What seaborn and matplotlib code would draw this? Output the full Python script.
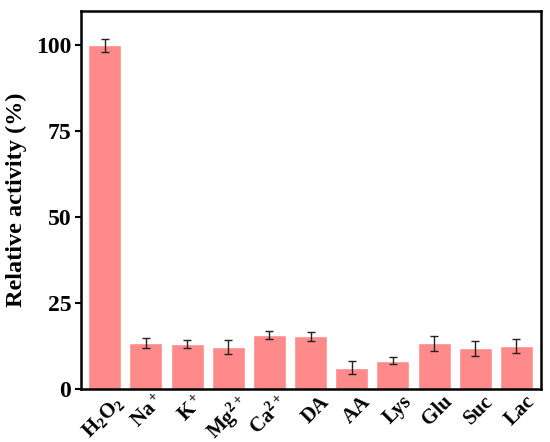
import matplotlib
matplotlib.use("Agg")
import matplotlib.pyplot as plt
import matplotlib.transforms as mtransforms
import seaborn as sns
import pandas as pd

categories = ["H$_2$O$_2$", "Na$^+$", "K$^+$", "Mg$^{2+}$", "Ca$^{2+}$", "DA", "AA", "Lys", "Glu", "Suc", "Lac"]
values = [100.0, 13.4, 13.0, 12.2, 15.8, 15.3, 6.2, 8.2, 13.3, 11.8, 12.6]
errors = [2.0, 1.5, 1.2, 2.0, 1.2, 1.3, 1.8, 1.0, 2.2, 2.2, 2.0]

df = pd.DataFrame({"cat": categories, "val": values, "err": errors})

sns.set_style("ticks")
plt.rcParams["font.family"] = ["Liberation Serif", "DejaVu Serif"]
plt.rcParams["font.weight"] = "bold"
plt.rcParams["text.color"] = "black"
plt.rcParams["axes.labelcolor"] = "black"
plt.rcParams["xtick.color"] = "black"
plt.rcParams["ytick.color"] = "black"
plt.rcParams["mathtext.fontset"] = "custom"
plt.rcParams["mathtext.rm"] = "Liberation Serif:bold"
plt.rcParams["mathtext.it"] = "Liberation Serif:bold"
plt.rcParams["mathtext.bf"] = "Liberation Serif:bold"

fig = plt.figure(figsize=(5.5, 4.42), dpi=100)
ax = fig.add_axes([0.147, 0.12, 0.837, 0.855])

sns.barplot(data=df, x="cat", y="val", color="#FF8A8A", saturation=1, width=0.8, ax=ax, errorbar=None)
ax.errorbar(range(len(values)), values, yerr=errors, fmt="none", ecolor="#222222",
            elinewidth=1.0, capsize=3, capthick=1.0)

ax.set_ylim(0, 110)
ax.set_xlim(-0.58, 10.6)
ax.set_yticks([0, 25, 50, 75, 100])
ax.set_ylabel("Relative activity (%)", fontsize=17.5, fontweight="bold", labelpad=6, color="black")
ax.set_xlabel("")
for s in ax.spines.values():
    s.set_linewidth(1.8)
    s.set_color("black")
    s.set_visible(True)
ax.tick_params(axis="y", direction="out", length=4, width=1.5, labelsize=17, pad=3, colors="black")
ax.tick_params(axis="x", length=0, labelsize=15, pad=2, colors="black")
offset = mtransforms.ScaledTranslation(6 / 72, 0, fig.dpi_scale_trans)
for lab in ax.get_yticklabels():
    lab.set_fontweight("bold")
for lab in ax.get_xticklabels():
    lab.set_rotation(45)
    lab.set_ha("right")
    lab.set_rotation_mode("anchor")
    lab.set_fontweight("bold")
    lab.set_transform(lab.get_transform() + offset)

fig.savefig("out.png", dpi=100)
